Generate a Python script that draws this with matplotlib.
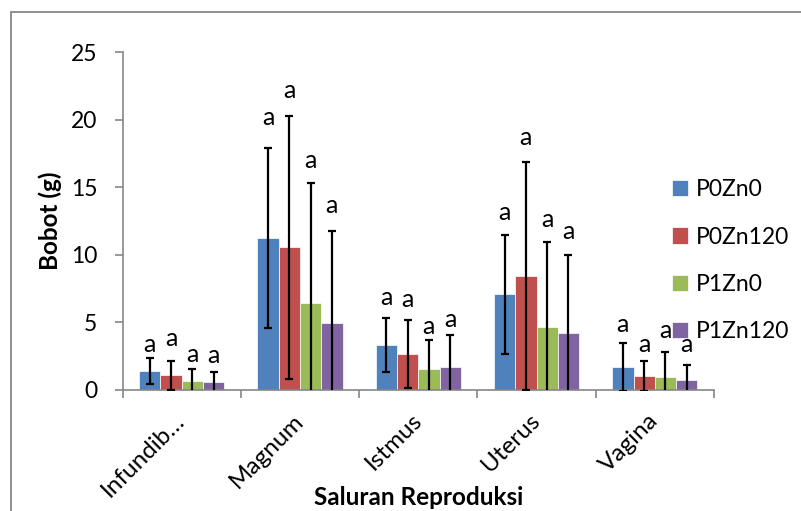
import matplotlib
matplotlib.use("Agg")
import matplotlib.pyplot as plt
import numpy as np
from matplotlib.patches import Rectangle

plt.rcParams['font.family'] = ['Lato', 'DejaVu Sans']

categories = ["Infundib…", "Magnum", "Istmus", "Uterus", "Vagina"]
series = ["P0Zn0", "P0Zn120", "P1Zn0", "P1Zn120"]
means = {
    "P0Zn0":   [1.38, 11.26, 3.28, 7.06, 1.67],
    "P0Zn120": [1.07, 10.55, 2.63, 8.42, 1.00],
    "P1Zn0":   [0.63, 6.39, 1.50, 4.61, 0.90],
    "P1Zn120": [0.53, 4.93, 1.65, 4.19, 0.70],
}
errors = {
    "P0Zn0":   [0.97, 6.67, 2.00, 4.40, 1.80],
    "P0Zn120": [1.07, 9.75, 2.50, 8.45, 1.14],
    "P1Zn0":   [0.92, 8.90, 2.17, 6.35, 1.88],
    "P1Zn120": [0.77, 6.85, 2.40, 5.80, 1.12],
}
# significance letters and the height (in data units) of their baseline
letters = {
    "P0Zn0":   ["a", "a", "a", "a", "a"],
    "P0Zn120": ["a", "a", "a", "a", "a"],
    "P1Zn0":   ["a", "a", "a", "a", "a"],
    "P1Zn120": ["a", "a", "a", "a", "a"],
}
letter_y = {
    "P0Zn0":   [2.76, 19.62, 6.27, 12.57, 4.29],
    "P0Zn120": [3.25, 21.60, 6.14, 18.14, 2.80],
    "P1Zn0":   [2.02, 16.41, 4.09, 12.03, 3.80],
    "P1Zn120": [1.99, 13.07, 4.61, 11.16, 2.80],
}
colors = ["#4F81BD", "#C0504D", "#9BBB59", "#8064A2"]

fig = plt.figure(figsize=(8.01, 5.11), dpi=100)
ax = fig.add_axes([122.5/801, 1-389.5/511, (714-122.5)/801, (389.5-52.5)/511])

# chart border
fig.patches.append(Rectangle((11/801, -0.05), 1.2, 1-12.5/511+0.05, transform=fig.transFigure,
                             fill=False, edgecolor="#868686", linewidth=1.3))

x = np.arange(len(categories))
w = 0.18
for i, s in enumerate(series):
    pos = x + (i - 1.5) * w
    ax.bar(pos, means[s], width=w, color=colors[i], edgecolor="white", linewidth=0.5,
           label=s, zorder=2)
    ax.errorbar(pos, means[s], yerr=errors[s], fmt="none", ecolor="black",
                elinewidth=1.6, capsize=3, capthick=1.6, zorder=3)
    for j in range(len(categories)):
        ax.text(pos[j], letter_y[s][j], letters[s][j], ha="center", va="baseline",
                fontsize=18, zorder=4)

ax.set_xlim(-0.5, len(categories) - 0.5)
ax.set_ylim(0, 25)
ax.set_yticks([0, 5, 10, 15, 20, 25])
ax.tick_params(axis="y", labelsize=16.5, length=6, color="#868686", width=1.2, pad=12)
ax.set_xticks(x)
ax.set_xticklabels(categories, rotation=45, ha="right", va="center", rotation_mode="anchor",
                   fontsize=17.5)
ax.tick_params(axis="x", length=0, pad=20)
ax.set_xticks(np.arange(len(categories) + 1) - 0.5, minor=True)
ax.tick_params(axis="x", which="minor", length=6, color="#868686", width=1.2)
for sp in ["top", "right"]:
    ax.spines[sp].set_visible(False)
for sp in ["left", "bottom"]:
    ax.spines[sp].set_color("#868686")
    ax.spines[sp].set_linewidth(1.2)

ax.set_ylabel("Bobot (g)", fontsize=17.5, fontweight="bold")
ax.yaxis.set_label_coords((62-122.5)/591.5, 0.5)
fig.text(419/801, 1-497/511, "Saluran Reproduksi", ha="center", va="center",
         fontsize=17.5, fontweight="bold")

fig.legend(loc="upper left", bbox_to_anchor=(663/801, 1-170/511), frameon=False,
           fontsize=16.5, handlelength=0.7, handleheight=0.7, labelspacing=1.15,
           handletextpad=0.35, borderaxespad=0)

fig.savefig("out.png", dpi=100)
